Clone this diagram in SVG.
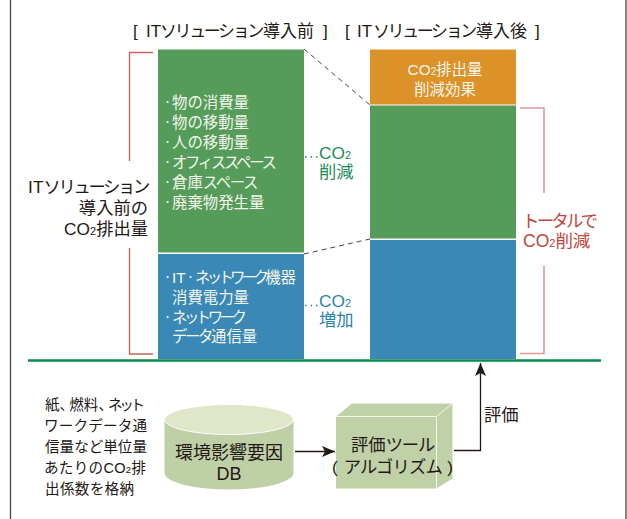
<svg xmlns="http://www.w3.org/2000/svg" width="627" height="519" viewBox="0 0 627 519">
<defs>
<marker id="ah" markerUnits="userSpaceOnUse" markerWidth="14" markerHeight="12" refX="13" refY="5.5" orient="auto"><path d="M0,0 L13,5.5 L0,11 L3,5.5 Z" fill="#231815"/></marker>
</defs>
<style>
text{font-family:"Liberation Sans","Noto Sans CJK JP",sans-serif;fill:#231815}
.h{font-size:17px}
.w{fill:#f4f6ec;font-size:15.4px}
.d{font-size:17.3px}
.s{font-size:14.6px}
.g{fill:#1a9058;font-size:17.3px}
.b{fill:#2a84b0;font-size:17.3px}
.r{fill:#c0473c;font-size:17.5px}
.c{text-anchor:middle}
.e{text-anchor:end}
.dot{font-size:9px}
.br{fill:none;stroke:#c9645c;stroke-width:1.4}
.br2{fill:none;stroke:#dd9a95;stroke-width:1.6}
.ds{fill:none;stroke:#444;stroke-width:1;stroke-dasharray:5 4}
.ln{fill:none;stroke:#231815;stroke-width:1.3}
</style>
<rect width="627" height="519" fill="#fff"/>
<g id="frame"><path d="M10.5,0V519M626,0V519" fill="none" stroke="#4a4444" stroke-width="1.3"/></g>
<g id="titles">
<text class="h" x="133" y="37">[ <tspan x="146">IT</tspan><tspan x="160" letter-spacing="-2.4">ソリューション</tspan><tspan x="263">導入前</tspan> <tspan x="323">]</tspan></text>
<text class="h" x="345" y="37">[ <tspan x="357">IT</tspan><tspan x="373" letter-spacing="-2.4">ソリューション</tspan><tspan x="476">導入後</tspan> <tspan x="535">]</tspan></text>
</g>
<g id="before-green"><rect x="158" y="49.5" width="146" height="203" fill="#559c5a"/>
<text class="w" x="163" y="108"><tspan class="dot" dy="-3">・</tspan><tspan x="172" dy="3">物の消費量</tspan></text>
<text class="w" x="163" y="128"><tspan class="dot" dy="-3">・</tspan><tspan x="172" dy="3">物の移動量</tspan></text>
<text class="w" x="163" y="148"><tspan class="dot" dy="-3">・</tspan><tspan x="172" dy="3">人の移動量</tspan></text>
<text class="w" x="163" y="168"><tspan class="dot" dy="-3">・</tspan><tspan x="172" dy="3" letter-spacing="-2.3">オフィススペース</tspan></text>
<text class="w" x="163" y="188"><tspan class="dot" dy="-3">・</tspan><tspan x="172" dy="3">倉庫</tspan><tspan letter-spacing="-1.4">スペース</tspan></text>
<text class="w" x="163" y="208"><tspan class="dot" dy="-3">・</tspan><tspan x="172" dy="3">廃棄物発生量</tspan></text>
</g>
<g id="before-blue"><rect x="158" y="254" width="146" height="105" fill="#3a88b6"/>
<text class="w" x="163" y="283"><tspan class="dot" dy="-3">・</tspan><tspan x="172" dy="3">IT</tspan><tspan class="dot" x="186" dy="-3">・</tspan><tspan x="195" dy="3" letter-spacing="-3.7">ネットワーク</tspan>機器</text>
<text class="w" x="172" y="303">消費電力量</text>
<text class="w" x="163" y="323"><tspan class="dot" dy="-3">・</tspan><tspan x="172" dy="3" letter-spacing="-3.5">ネットワーク</tspan></text>
<text class="w" x="172" y="342"><tspan letter-spacing="-2.4">データ</tspan>通信量</text>
</g>
<g id="after-orange"><rect x="370" y="49.5" width="146" height="55" fill="#dc9228"/>
<text class="w c" x="445" y="75">CO<tspan font-size="10">2</tspan>排出量</text>
<text class="w c" x="445" y="95">削減効果</text>
</g>
<g id="after-green"><rect x="370" y="105.5" width="146" height="133" fill="#559c5a"/></g>
<g id="after-blue"><rect x="370" y="240" width="146" height="119" fill="#3a88b6"/></g>
<g id="label-total">
<text class="d e" x="148" y="193">IT<tspan letter-spacing="-2.3">ソリューション</tspan></text>
<text class="d e" x="148" y="214">導入前の</text>
<text class="d e" x="148" y="235">CO<tspan font-size="11">2</tspan>排出量</text>
</g>
<g id="label-reduce">
<text class="g" x="319" y="158.5">CO<tspan font-size="11">2</tspan></text>
<text class="g" x="319" y="178">削減</text>
</g>
<g id="label-increase">
<text class="b" x="319" y="306.5">CO<tspan font-size="11">2</tspan></text>
<text class="b" x="319" y="326">増加</text>
</g>
<g id="label-overall">
<text class="r" x="522" y="226.5" textLength="76">トータルで</text>
<text class="r" x="523" y="247">CO<tspan font-size="11">2</tspan>削減</text>
</g>
<g id="note">
<text class="s" x="45" y="410">紙<tspan letter-spacing="-5">、</tspan>燃料<tspan letter-spacing="-5">、</tspan><tspan letter-spacing="-3.4">ネット</tspan></text>
<text class="s" x="44" y="431" textLength="103">ワークデータ通</text>
<text class="s" x="45" y="452" textLength="102">信量など単位量</text>
<text class="s" x="44" y="473" textLength="102">あたりのCO<tspan font-size="9.5">2</tspan>排</text>
<text class="s" x="45" y="494" textLength="89">出係数を格納</text>
</g>
<g id="db">
<path d="M164.5,420V473A64.5,16.5 0 0 0 293.5,473V420Z" fill="#bfd0a6"/>
<ellipse cx="229" cy="419.5" rx="64.5" ry="15" fill="#e0e6c8" stroke="#fff" stroke-width="1"/>
<text class="c" x="229" y="459" style="font-size:18px">環境影響要因</text>
<text class="c" x="229" y="480" style="font-size:18px">DB</text>
</g>
<g id="tool">
<path d="M336,416.5L352,403.5H452.5V478.5L436.5,488.5H336Z" fill="#c0d1a8"/>
<path d="M336,416.5H436.5V488.5M436.5,416.5L452.5,403.5" fill="none" stroke="#f4f6ec" stroke-width="1"/>
<text class="d" x="351" y="450.5" textLength="83">評価<tspan letter-spacing="-1.2">ツール</tspan></text>
<text class="d" x="332" y="473" textLength="121">( <tspan letter-spacing="-1.4">アルゴリズム</tspan> )</text>
</g>
<g id="connectors">
<path class="br" d="M153,52.5H129.5V161M129.5,248V354H153"/>
<path class="br2" d="M520,108H544V193M544,266V353.5H520"/>
<path class="ds" d="M304,49L370,105M304,254L370,239"/>
<path d="M305,157H318" fill="none" stroke="#1a9058" stroke-width="1.4" stroke-dasharray="1.5 4"/>
<path d="M305,305.5H318" fill="none" stroke="#2a84b0" stroke-width="1.4" stroke-dasharray="1.5 4"/>
<path d="M28,360.5H601" fill="none" stroke="#0a8c4c" stroke-width="2.4"/>
<path class="ln" d="M295,451.5H335" marker-end="url(#ah)"/>
<path class="ln" d="M454,450.5H480.5V363" marker-end="url(#ah)"/>
</g>
<g id="label-eval"><text class="d" x="484" y="421">評価</text></g>
</svg>
